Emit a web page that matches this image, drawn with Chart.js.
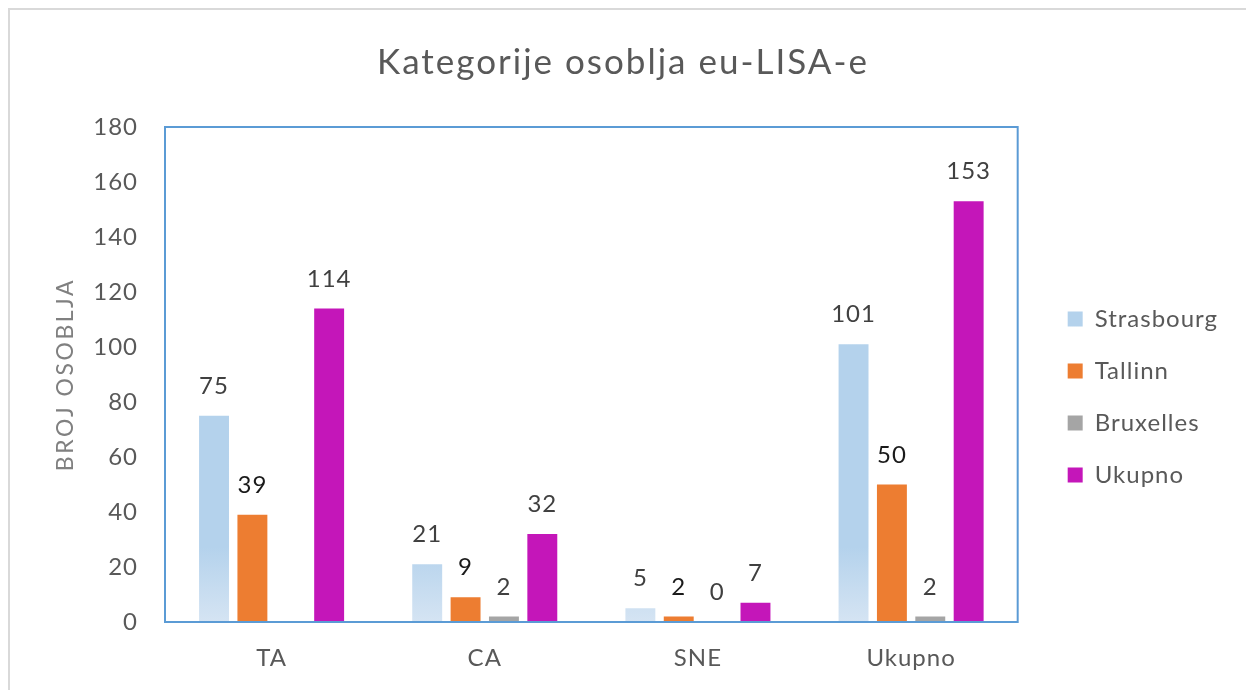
<!DOCTYPE html>
<html>
<head>
<meta charset="utf-8">
<script src="https://cdn.jsdelivr.net/npm/chart.js@4/dist/chart.umd.min.js"></script>
<style>
  html, body { margin: 0; padding: 0; background: #fff; overflow: hidden; }
  #frame { position: absolute; left: 8px; top: 8px; width: 1400px; height: 900px; border: 2px solid #d9d9d9; }
  #c { position: absolute; left: 0; top: 0; }
</style>
</head>
<body>
<div id="frame"></div>
<canvas id="c" width="1246" height="690"></canvas>
<script>
"use strict"

// chart data
var categories = ['TA', 'CA', 'SNE', 'Ukupno'];
var strasbourg = [75, 21, 5, 101];
var tallinn = [39, 9, 2, 50];
var bruxelles = [null, 2, 0, 2];
var ukupno = [114, 32, 7, 153];
var yTicks = [0, 20, 40, 60, 80, 100, 120, 140, 160, 180];

var FONT = 'Lato';
var labelColors = ['#404040', '#1a1a1a', '#404040', '#404040'];

// a little wider text, like the Calibri of the original
var spacing = {
    id: 'spacing',
    beforeLayout: function (chart) { chart.ctx.letterSpacing = '1px'; },
    beforeDraw: function (chart) { chart.ctx.letterSpacing = '1px'; }
};

// value labels above each bar
var valueLabels = {
    id: 'valueLabels',
    afterDatasetsDraw: function (chart) {
        var ctx = chart.ctx;
        ctx.save();
        ctx.font = '24px ' + FONT;
        ctx.textAlign = 'center';
        ctx.textBaseline = 'alphabetic';
        chart.data.datasets.forEach(function (ds, i) {
            chart.getDatasetMeta(i).data.forEach(function (bar, j) {
                var v = ds.data[j];
                if (v === null) return;
                ctx.fillStyle = labelColors[i];
                ctx.fillText(String(v), bar.x, bar.y - 22);
            });
        });
        ctx.restore();
    }
};

// blue frame round the plot area
var plotFrame = {
    id: 'plotFrame',
    afterDatasetsDraw: function (chart) {
        var a = chart.chartArea, ctx = chart.ctx;
        ctx.save();
        ctx.strokeStyle = '#5b9bd5';
        ctx.lineWidth = 2;
        ctx.strokeRect(a.left, a.top, a.right - a.left, a.bottom - a.top);
        ctx.restore();
    }
};

function strasbourgFill(c) {
    var area = c.chart.chartArea;
    if (!area) return '#b4d2ec';
    var g = c.chart.ctx.createLinearGradient(0, area.bottom - 75, 0, area.bottom);
    g.addColorStop(0, '#b4d2ec');
    g.addColorStop(1, '#d5e4f3');
    return g;
}

var config = {
    type: 'bar',
    data: {
        labels: categories,
        datasets: [
            { label: 'Strasbourg', data: strasbourg, backgroundColor: strasbourgFill },
            { label: 'Tallinn', data: tallinn, backgroundColor: '#ed7d31' },
            { label: 'Bruxelles', data: bruxelles, backgroundColor: '#a5a5a5' },
            { label: 'Ukupno', data: ukupno, backgroundColor: '#c416b9' }
        ]
    },
    options: {
        responsive: false,
        animation: false,
        datasets: { bar: { categoryPercentage: 0.72, barPercentage: 0.78 } },
        layout: { padding: { left: 18, right: 18, top: 0, bottom: 0 } },
        plugins: {
            title: {
                display: true,
                text: 'Kategorije osoblja eu-LISA-e',
                color: '#595959',
                font: { family: FONT, size: 35, weight: 'normal' },
                padding: { top: 42, bottom: 43 }
            },
            legend: {
                position: 'right',
                fullSize: false,
                align: 'center',
                title: { display: true, text: '', font: { size: 4 }, padding: 20 },
                labels: {
                    color: '#595959',
                    font: { family: FONT, size: 24 },
                    boxWidth: 15,
                    boxHeight: 15,
                    padding: 28
                }
            },
            tooltip: { enabled: false }
        },
        scales: {
            x: {
                grid: { display: false, drawTicks: false },
                border: { display: false },
                ticks: { color: '#595959', font: { family: FONT, size: 24 }, padding: 22 },
                afterFit: function (s) { s.height = 68; }
            },
            y: {
                min: 0,
                max: 180,
                afterBuildTicks: function (s) { s.ticks = yTicks.map(function (v) { return { value: v }; }); },
                grid: { display: false, drawTicks: false },
                border: { display: false },
                ticks: { color: '#595959', font: { family: FONT, size: 24 }, padding: 27 },
                title: {
                    display: true,
                    text: 'BROJ OSOBLJA',
                    color: '#808080',
                    font: { family: FONT, size: 23 },
                    padding: { top: 34, bottom: 0 }
                },
                afterFit: function (s) { s.width = 147; }
            },
            y2: {
                position: 'right',
                grid: { display: false, drawTicks: false },
                border: { display: false },
                ticks: { display: false },
                afterFit: function (s) { s.width = 22; }
            }
        }
    },
    plugins: [spacing, valueLabels, plotFrame]
};

var chart = new Chart(document.getElementById('c').getContext('2d'), config);

// wider letter spacing for the chart title and the axis title
function spaced(orig, px) {
    return function () {
        var ctx = this.ctx;
        ctx.letterSpacing = px;
        orig.apply(this, arguments);
        ctx.letterSpacing = '1px';
    };
}
chart.titleBlock.draw = spaced(chart.titleBlock.draw, '2px');
chart.scales.y.drawTitle = spaced(chart.scales.y.drawTitle, '2.5px');
chart.draw();
</script>
</body>
</html>
